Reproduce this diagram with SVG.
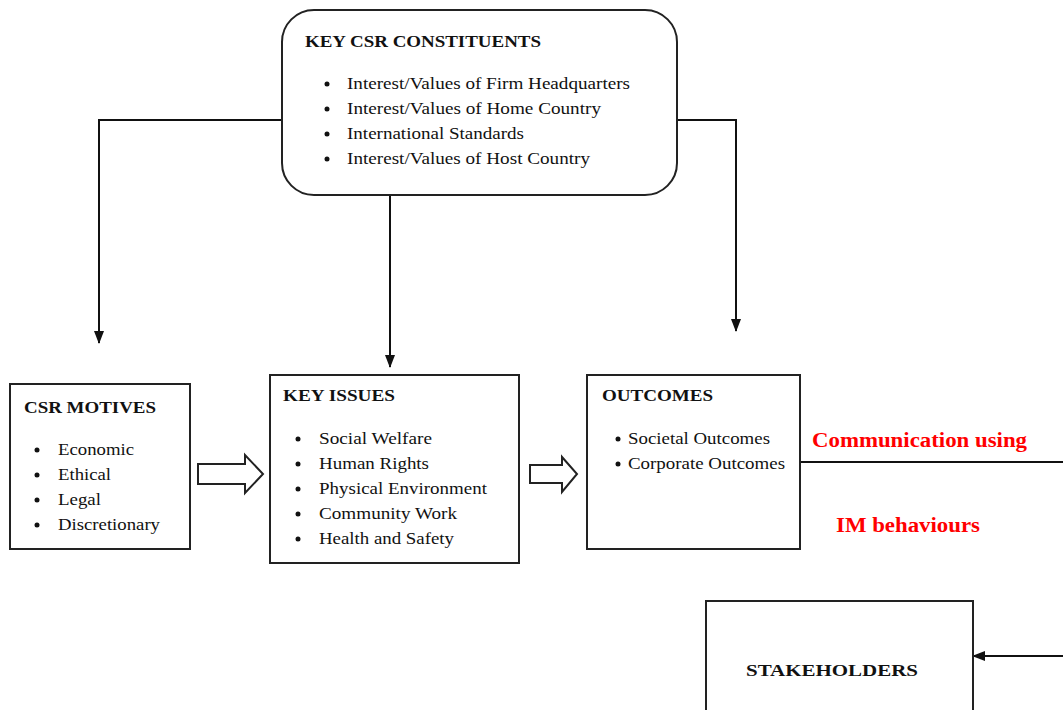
<svg xmlns="http://www.w3.org/2000/svg" width="1063" height="710" viewBox="0 0 1063 710">
<style>
.box{fill:#fff;stroke:#222;stroke-width:2}
.ln{fill:none;stroke:#111;stroke-width:2}
.h{font-family:"Liberation Serif",serif;font-weight:bold;font-size:16px;fill:#111}
.t{font-family:"Liberation Serif",serif;font-size:17px;fill:#111}
.r{font-family:"Liberation Serif",serif;font-weight:bold;font-size:20px;fill:#ff0000}
.b{fill:#111}
.blk{fill:#fff;stroke:#222;stroke-width:2;stroke-linejoin:miter}
</style>
<defs>
<marker id="ah" viewBox="0 0 13 10" refX="12" refY="5" markerWidth="13" markerHeight="10" markerUnits="userSpaceOnUse" orient="auto" preserveAspectRatio="none">
<path d="M0,0 L13,5 L0,10 z" fill="#111"/>
</marker>
</defs>
<g id="connectors">
<path class="ln" d="M282,120 H99 V343" marker-end="url(#ah)"/>
<path class="ln" d="M390,195 V367" marker-end="url(#ah)"/>
<path class="ln" d="M677,120 H736 V331" marker-end="url(#ah)"/>
<path class="ln" d="M800,462 H1063"/>
<path class="ln" d="M1063,656 H973" marker-end="url(#ah)"/>
<path class="blk" d="M198,464 H245 V455 L263,474 L245,493 V484 H198 Z"/>
<path class="blk" d="M530,465 H562 V457 L577,474 L562,492 V483 H530 Z"/>
<text class="r" x="812" y="447" textLength="215" lengthAdjust="spacingAndGlyphs">Communication using</text>
<text class="r" x="836" y="532" textLength="144" lengthAdjust="spacingAndGlyphs">IM behaviours</text>
</g>
<g id="constituents">
<rect class="box" x="282" y="10" width="395" height="185" rx="32" ry="32"/>
<text class="h" x="305" y="47" textLength="236" lengthAdjust="spacingAndGlyphs">KEY CSR CONSTITUENTS</text>
<circle class="b" cx="327" cy="84" r="2.5"/><text class="t" x="347" y="89" textLength="283" lengthAdjust="spacingAndGlyphs">Interest/Values of Firm Headquarters</text>
<circle class="b" cx="327" cy="109" r="2.5"/><text class="t" x="347" y="114" textLength="254" lengthAdjust="spacingAndGlyphs">Interest/Values of Home Country</text>
<circle class="b" cx="327" cy="134" r="2.5"/><text class="t" x="347" y="139" textLength="177" lengthAdjust="spacingAndGlyphs">International Standards</text>
<circle class="b" cx="327" cy="159" r="2.5"/><text class="t" x="347" y="164" textLength="243" lengthAdjust="spacingAndGlyphs">Interest/Values of Host Country</text>
</g>
<g id="motives">
<rect class="box" x="10" y="384" width="180" height="165"/>
<text class="h" x="24" y="413" textLength="132" lengthAdjust="spacingAndGlyphs">CSR MOTIVES</text>
<circle class="b" cx="37" cy="450" r="2.5"/><text class="t" x="58" y="455" textLength="76" lengthAdjust="spacingAndGlyphs">Economic</text>
<circle class="b" cx="37" cy="475" r="2.5"/><text class="t" x="58" y="480" textLength="53" lengthAdjust="spacingAndGlyphs">Ethical</text>
<circle class="b" cx="37" cy="500" r="2.5"/><text class="t" x="58" y="505" textLength="43" lengthAdjust="spacingAndGlyphs">Legal</text>
<circle class="b" cx="37" cy="525" r="2.5"/><text class="t" x="58" y="530" textLength="102" lengthAdjust="spacingAndGlyphs">Discretionary</text>
</g>
<g id="issues">
<rect class="box" x="270" y="375" width="249" height="188"/>
<text class="h" x="283" y="401" textLength="112" lengthAdjust="spacingAndGlyphs">KEY ISSUES</text>
<circle class="b" cx="298" cy="439" r="2.5"/><text class="t" x="319" y="444" textLength="113" lengthAdjust="spacingAndGlyphs">Social Welfare</text>
<circle class="b" cx="298" cy="464" r="2.5"/><text class="t" x="319" y="469" textLength="110" lengthAdjust="spacingAndGlyphs">Human Rights</text>
<circle class="b" cx="298" cy="489" r="2.5"/><text class="t" x="319" y="494" textLength="168" lengthAdjust="spacingAndGlyphs">Physical Environment</text>
<circle class="b" cx="298" cy="514" r="2.5"/><text class="t" x="319" y="519" textLength="138" lengthAdjust="spacingAndGlyphs">Community Work</text>
<circle class="b" cx="298" cy="539" r="2.5"/><text class="t" x="319" y="544" textLength="135" lengthAdjust="spacingAndGlyphs">Health and Safety</text>
</g>
<g id="outcomes">
<rect class="box" x="587" y="375" width="213" height="174"/>
<text class="h" x="602" y="401" textLength="111" lengthAdjust="spacingAndGlyphs">OUTCOMES</text>
<circle class="b" cx="618" cy="439" r="2.5"/><text class="t" x="628" y="444" textLength="142" lengthAdjust="spacingAndGlyphs">Societal Outcomes</text>
<circle class="b" cx="618" cy="464" r="2.5"/><text class="t" x="628" y="469" textLength="157" lengthAdjust="spacingAndGlyphs">Corporate Outcomes</text>
</g>
<g id="stakeholders">
<rect class="box" x="706" y="601" width="267" height="120"/>
<text class="h" x="746" y="676" textLength="172" lengthAdjust="spacingAndGlyphs">STAKEHOLDERS</text>
</g>
</svg>
